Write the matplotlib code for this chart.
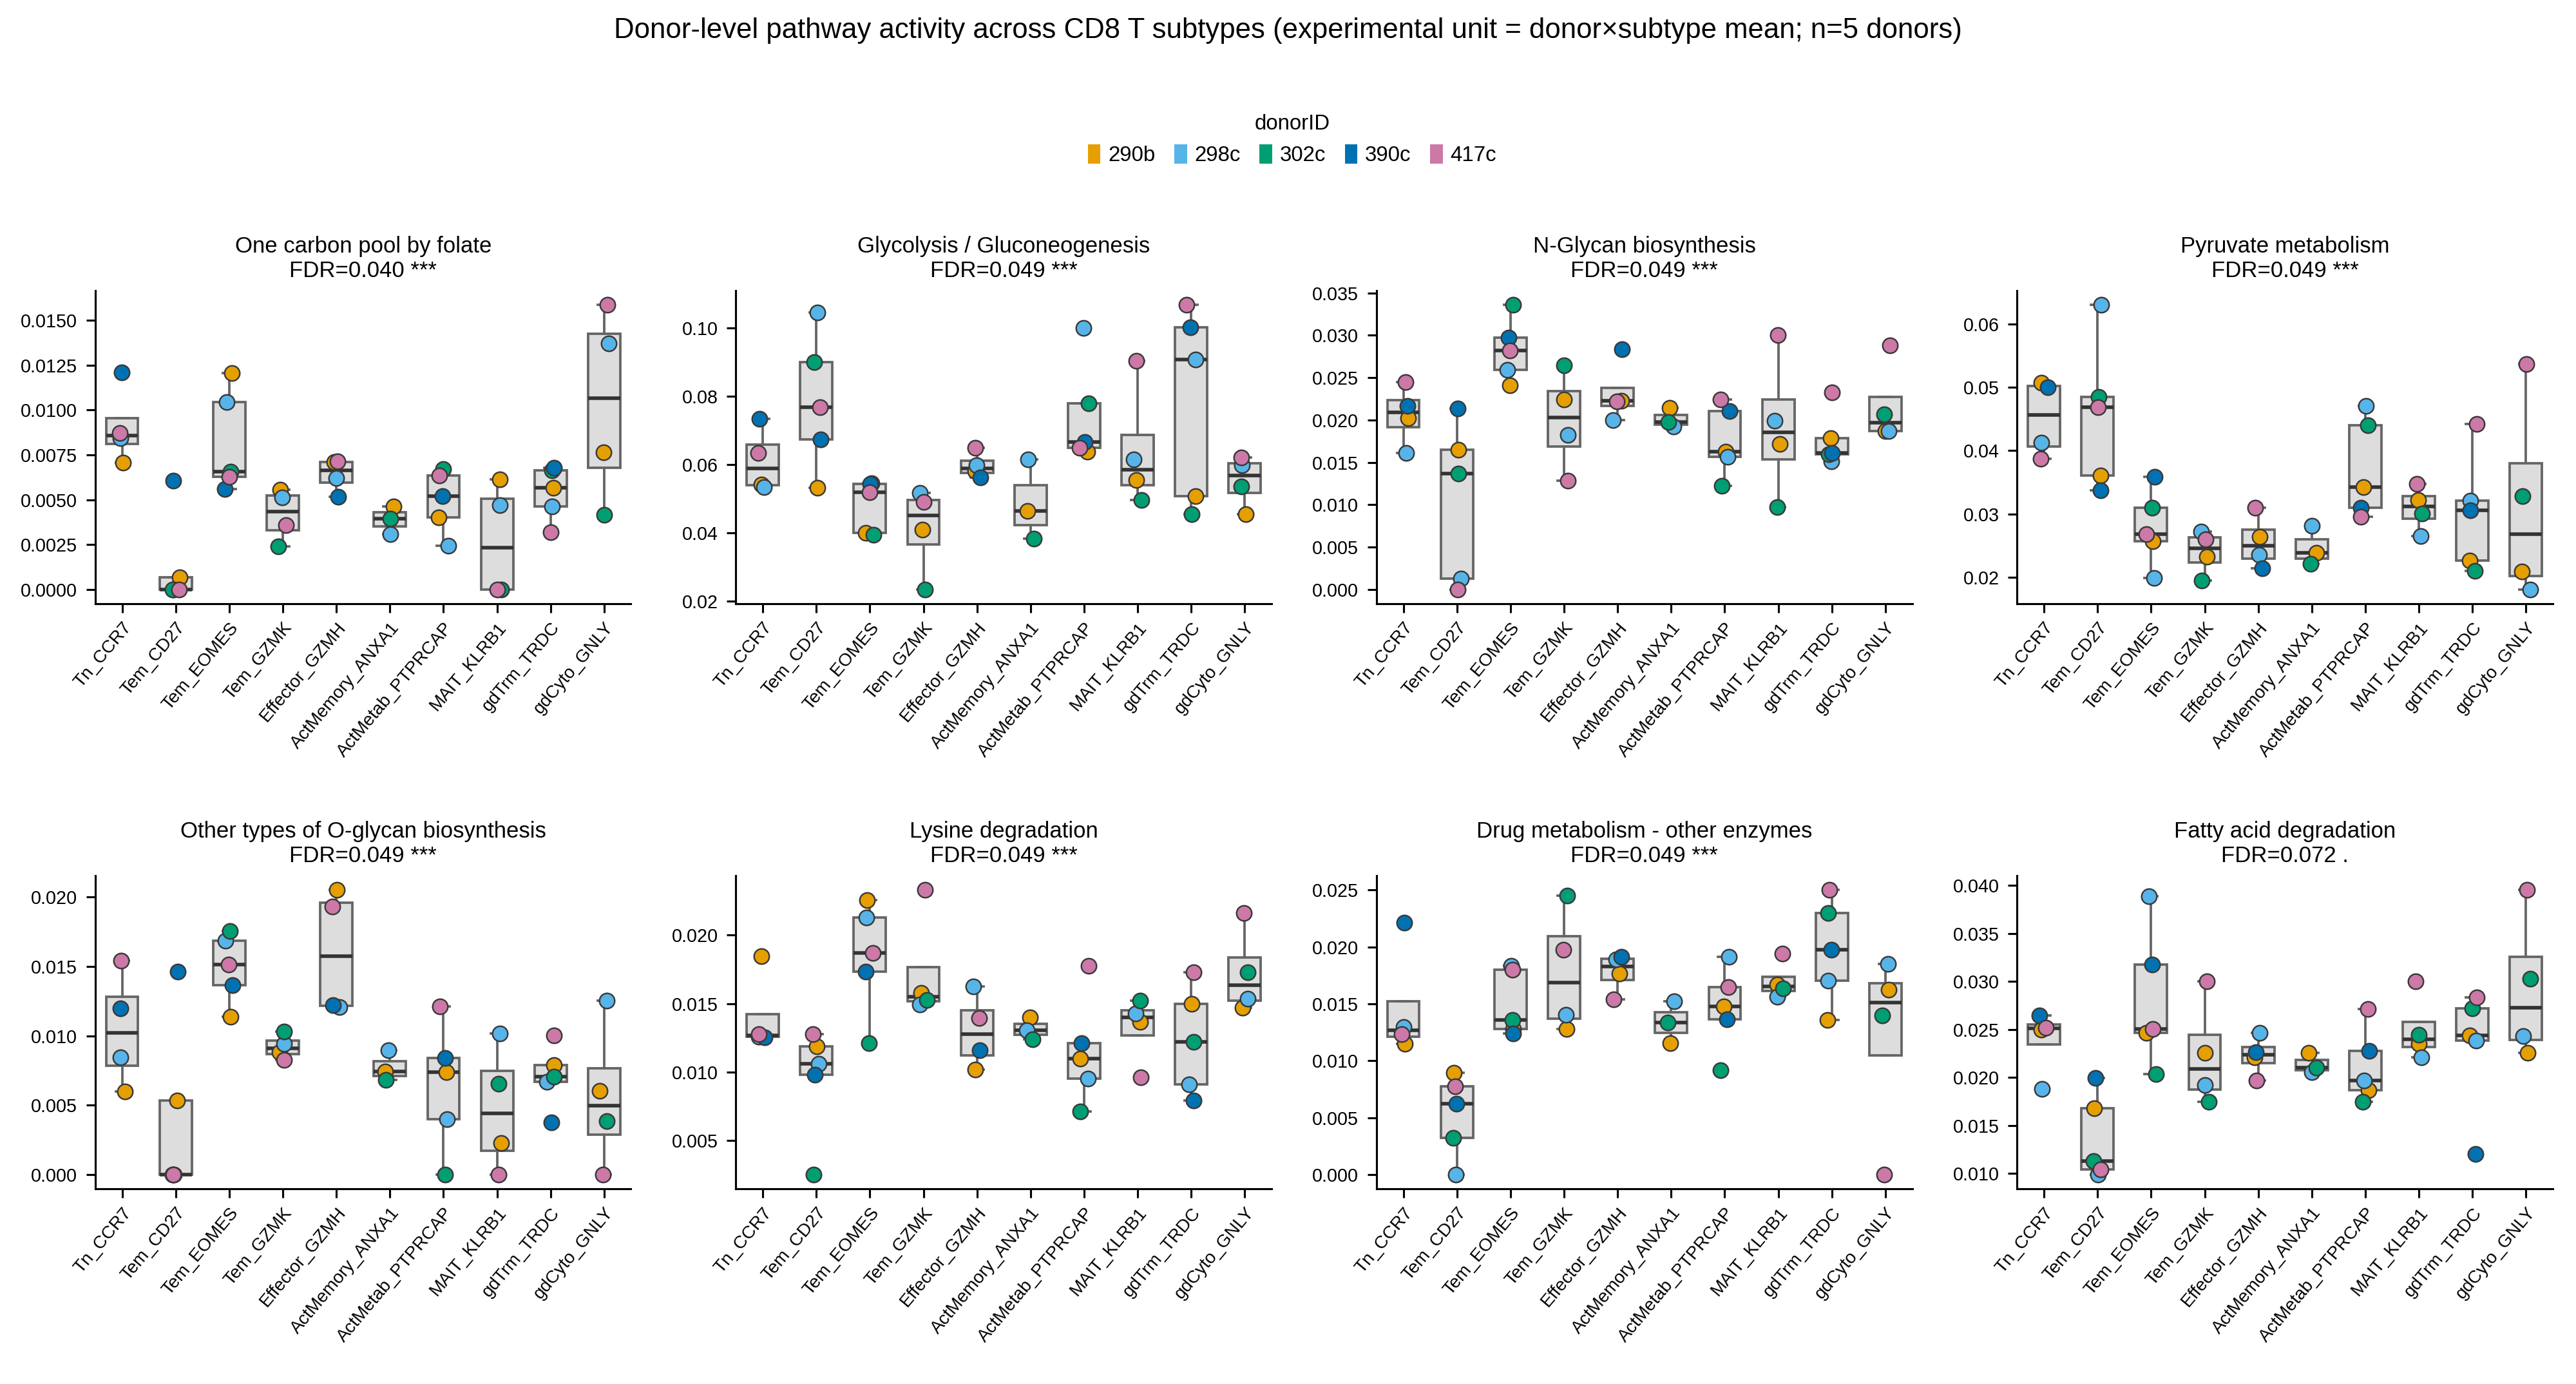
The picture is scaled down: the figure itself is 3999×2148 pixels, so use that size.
import numpy as np
import matplotlib
matplotlib.use("Agg")
import matplotlib.pyplot as plt
from matplotlib.patches import Patch

nan = np.nan

# ---------------- data ----------------
subtypes = ["Tn_CCR7", "Tem_CD27", "Tem_EOMES", "Tem_GZMK", "Effector_GZMH",
            "ActMemory_ANXA1", "ActMetab_PTPRCAP", "MAIT_KLRB1", "gdTrm_TRDC", "gdCyto_GNLY"]
donors = ["290b", "298c", "302c", "390c", "417c"]
donor_colors = ["#E69F00", "#56B4E9", "#009E73", "#0072B2", "#CC79A7"]

pathways = ["One carbon pool by folate", "Glycolysis / Gluconeogenesis",
            "N-Glycan biosynthesis", "Pyruvate metabolism",
            "Other types of O-glycan biosynthesis", "Lysine degradation",
            "Drug metabolism - other enzymes", "Fatty acid degradation"]
fdr = [0.040, 0.049, 0.049, 0.049, 0.049, 0.049, 0.049, 0.072]
stars = ["***", "***", "***", "***", "***", "***", "***", "."]

# rows = donors (290b, 298c, 302c, 390c, 417c); columns = subtypes
one_carbon = [
    [0.00708, 0.00067, 0.01205, 0.00556, 0.00710, 0.00464, 0.00400, 0.00613, 0.00566, 0.00765],
    [0.00844, 0.00000, 0.01043, 0.00511, 0.00620, 0.00308, 0.00244, 0.00468, 0.00464, 0.01369],
    [nan,     0.00000, 0.00658, 0.00241, nan,     0.00393, 0.00670, 0.00000, 0.00663, 0.00417],
    [0.01209, 0.00606, 0.00560, nan,     0.00517, nan,     0.00521, nan,     0.00677, nan],
    [0.00871, 0.00000, 0.00627, 0.00358, 0.00712, nan,     0.00634, 0.00000, 0.00319, 0.01585],
]
glycolysis = [
    [0.0542, 0.0533, 0.0401, 0.0410, 0.0581, 0.0464, 0.0637, 0.0555, 0.0507, 0.0455],
    [0.0535, 0.1045, 0.0546, 0.0517, 0.0598, 0.0616, 0.1000, 0.0616, 0.0907, 0.0598],
    [nan,    0.0900, 0.0394, 0.0235, nan,    0.0384, 0.0779, 0.0496, 0.0455, 0.0537],
    [0.0733, 0.0674, 0.0544, nan,    0.0563, nan,    0.0667, nan,    0.1002, nan],
    [0.0635, 0.0768, 0.0520, 0.0491, 0.0650, nan,    0.0650, 0.0903, 0.1067, 0.0620],
]
n_glycan = [
    [0.0202,  0.0165,  0.0241, 0.0224,  0.0223, 0.02147, 0.0163,  0.0172,  0.0179,  0.0187],
    [0.0161,  0.00126, 0.0259, 0.01825, 0.0200, 0.01921, 0.01564, 0.0199,  0.0151,  0.0187],
    [nan,     0.01365, 0.0336, 0.0265,  nan,    0.01976, 0.01224, 0.00974, 0.0160,  0.02066],
    [0.02165, 0.0214,  0.0297, nan,     0.0284, nan,     0.02105, nan,     0.0161,  nan],
    [0.0245,  0.0000,  0.0282, 0.01284, 0.0222, nan,     0.0224,  0.0300,  0.02327, 0.02884],
]
pyruvate = [
    [0.0507,  0.0361, 0.0257, 0.0232, 0.0264, 0.02383, 0.03427, 0.03218, 0.02262, 0.02089],
    [0.04125, 0.0630, 0.0199, 0.0272, 0.0235, 0.02815, 0.0470,  0.02653, 0.03206, 0.01806],
    [nan,     0.0485, 0.0310, 0.0195, nan,    0.0221,  0.0440,  0.03008, 0.0210,  0.03278],
    [0.0500,  0.0337, 0.0359, nan,    0.0214, nan,     0.0310,  nan,     0.03056, nan],
    [0.03875, 0.0468, 0.0268, 0.0260, 0.0310, nan,     0.02956, 0.03472, 0.04415, 0.05363],
]
o_glycan = [
    [0.00600, 0.00536, 0.01138, 0.00881, 0.02050, 0.00741, 0.00738, 0.00228, 0.00789, 0.00604],
    [0.00844, 0.00000, 0.01686, 0.00943, 0.01206, 0.00894, 0.00398, 0.01017, 0.00668, 0.01255],
    [nan,     0.00000, 0.01756, 0.01031, nan,     0.00683, 0.00000, 0.00655, 0.00705, 0.00385],
    [0.01196, 0.01462, 0.01365, nan,     0.01220, nan,     0.00842, nan,     0.00374, nan],
    [0.01540, 0.00000, 0.01514, 0.00824, 0.01930, nan,     0.01211, 0.00000, 0.01004, 0.00000],
]
lysine = [
    [0.01845, 0.01185, 0.02255, 0.01579, 0.01017, 0.01399, 0.01097, 0.01367, 0.01496, 0.01469],
    [0.01257, 0.01060, 0.02130, 0.01492, 0.01626, 0.01306, 0.00952, 0.01427, 0.00909, 0.01538],
    [nan,     0.00250, 0.01209, 0.01525, nan,     0.01241, 0.00714, 0.01523, 0.01222, 0.01730],
    [0.01255, 0.00980, 0.01734, nan,     0.01157, nan,     0.01213, nan,     0.00790, nan],
    [0.01279, 0.01278, 0.01870, 0.02330, 0.01393, nan,     0.01775, 0.00961, 0.01730, 0.02162],
]
drug = [
    [0.01150, 0.00895, 0.01280, 0.01280, 0.01768, 0.01157, 0.01475, 0.01672, 0.01358, 0.01627],
    [0.01296, 0.00000, 0.01833, 0.01403, 0.01889, 0.01520, 0.01911, 0.01560, 0.01701, 0.01851],
    [nan,     0.00322, 0.01358, 0.02450, nan,     0.01336, 0.00915, 0.01634, 0.02298, 0.01397],
    [0.02213, 0.00620, 0.01240, nan,     0.01913, nan,     0.01363, nan,     0.01974, nan],
    [0.01235, 0.00777, 0.01799, 0.01974, 0.01538, nan,     0.01649, 0.01940, 0.02500, 0.00000],
]
fatty_acid = [
    [0.02497, 0.01676, 0.02463, 0.02256, 0.02211, 0.02259, 0.01866, 0.02349, 0.02436, 0.02259],
    [0.01880, 0.00987, 0.03888, 0.01919, 0.02463, 0.02052, 0.01965, 0.02206, 0.02383, 0.02431],
    [nan,     0.01125, 0.02033, 0.01747, nan,     0.02100, 0.01747, 0.02441, 0.02722, 0.03027],
    [0.02643, 0.01991, 0.03178, nan,     0.02264, nan,     0.02277, nan,     0.01199, nan],
    [0.02521, 0.01040, 0.02502, 0.02998, 0.01965, nan,     0.02714, 0.02998, 0.02834, 0.03952],
]
panel_values = [one_carbon, glycolysis, n_glycan, pyruvate,
                o_glycan, lysine, drug, fatty_acid]

# ---------------- figure ----------------
plt.rcParams["font.family"] = ["Liberation Sans", "DejaVu Sans"]
fig = plt.figure(figsize=(3999 / 250, 2148 / 250), dpi=250)
gs = fig.add_gridspec(2, 4, left=0.037, right=0.991, top=0.79, bottom=0.141,
                      wspace=0.196, hspace=0.869)

rng = np.random.default_rng(7)
xpos = np.arange(len(subtypes))

for k, vals in enumerate(panel_values):
    ax = fig.add_subplot(gs[k // 4, k % 4])
    arr = np.array(vals, dtype=float)
    groups = [arr[:, j][~np.isnan(arr[:, j])] for j in range(len(subtypes))]
    ax.boxplot(groups, positions=xpos, widths=0.6, patch_artist=True,
               showfliers=False, whis=1.5, capwidths=0.24,
               boxprops=dict(facecolor="#DDDDDD", edgecolor="#666666", linewidth=1.1),
               whiskerprops=dict(color="#666666", linewidth=1.1),
               capprops=dict(color="#666666", linewidth=1.1),
               medianprops=dict(color="#333333", linewidth=1.6),
               zorder=1)
    for d in range(len(donors)):
        yv = arr[d]
        ok = ~np.isnan(yv)
        jit = rng.uniform(-0.09, 0.09, size=len(subtypes))
        ax.scatter(xpos[ok] + jit[ok], yv[ok], s=46, color=donor_colors[d],
                   edgecolors="#3a3a3a", linewidths=0.7, zorder=3 + d)
    ax.set_xlim(-0.5, len(subtypes) - 0.5)
    ax.set_xticks(xpos)
    ax.set_xticklabels(subtypes, rotation=50, ha="right", rotation_mode="anchor",
                       fontsize=8)
    ax.tick_params(axis="y", labelsize=8.3, length=4, width=0.9, pad=4)
    ax.tick_params(axis="x", length=4, width=0.9, pad=3)
    for sp in ["top", "right"]:
        ax.spines[sp].set_visible(False)
    for sp in ["left", "bottom"]:
        ax.spines[sp].set_linewidth(0.9)
    ax.set_title(f"{pathways[k]}\nFDR={fdr[k]:.3f} {stars[k]}", fontsize=10, pad=6)

fig.suptitle("Donor-level pathway activity across CD8 T subtypes "
             "(experimental unit = donor\u00d7subtype mean; n=5 donors)",
             fontsize=12.6, y=0.978, va="center")

handles = [Patch(facecolor=c, edgecolor="none", label=d)
           for d, c in zip(donors, donor_colors)]
fig.legend(handles=handles, title="donorID", loc="center", ncol=5,
           bbox_to_anchor=(0.5016, 0.899), frameon=False, fontsize=9.5,
           title_fontsize=9.5, handlelength=0.6, handleheight=1.0,
           handletextpad=0.35, columnspacing=0.9)

fig.savefig("out.png", dpi=250)
